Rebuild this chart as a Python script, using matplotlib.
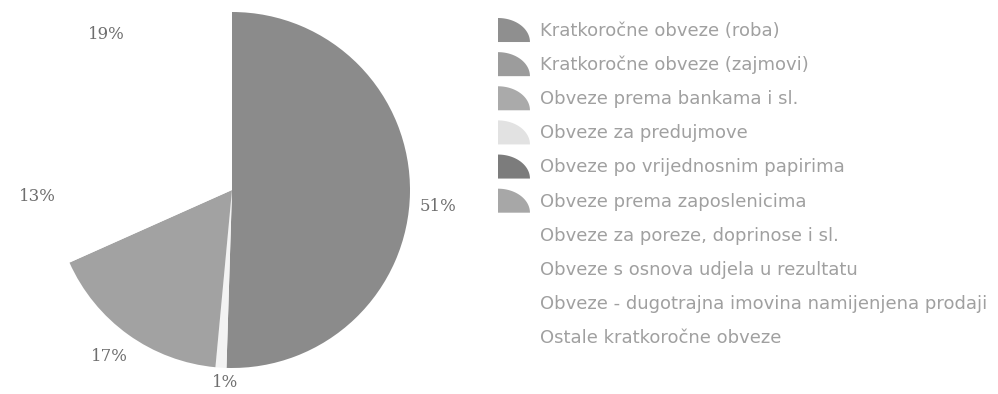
import matplotlib
matplotlib.use("Agg")
import matplotlib.pyplot as plt
from matplotlib.patches import Polygon, Patch
from matplotlib.legend_handler import HandlerPatch
import numpy as np

# udjeli u kratkoročnim obvezama (%)
shares = [51, 1, 17, 13, 19]
slice_colors = ["#8b8b8b", "#f3f3f3", "#a2a2a2", "#ffffff", "#ffffff"]

categories = [
    "Kratkoročne obveze (roba)",
    "Kratkoročne obveze (zajmovi)",
    "Obveze prema bankama i sl.",
    "Obveze za predujmove",
    "Obveze po vrijednosnim papirima",
    "Obveze prema zaposlenicima",
    "Obveze za poreze, doprinose i sl.",
    "Obveze s osnova udjela u rezultatu",
    "Obveze - dugotrajna imovina namijenjena prodaji",
    "Ostale kratkoročne obveze",
]
legend_colors = ["#8f8f8f", "#9c9c9c", "#aaaaaa", "#e2e2e2", "#7c7c7c", "#a7a7a7",
                 "none", "none", "none", "none"]

# sitni pomaci oznaka postotaka (u jedinicama polumjera)
label_nudge = [(0.028, -0.073), (0.034, 0.045), (-0.028, -0.017), (0.034, -0.017), (-0.079, -0.062)]

fig = plt.figure(figsize=(9.98, 3.94), dpi=100)

# krug: središte (232, 190) px, polumjer 178 px
ax = fig.add_axes([54 / 998, 26 / 394, 356 / 998, 356 / 394])
wedges, texts = ax.pie(
    shares,
    colors=slice_colors,
    labels=[f"{v}%" for v in shares],
    labeldistance=1.13,
    startangle=90,
    counterclock=False,
    wedgeprops=dict(linewidth=0),
    textprops=dict(family="DejaVu Serif", fontsize=12, color="#6e6e6e"),
)
ax.set_xlim(-1, 1)
ax.set_ylim(-1, 1)
for t, (dx, dy) in zip(texts, label_nudge):
    x, y = t.get_position()
    t.set_position((x + dx, y + dy))
    t.set_ha("center")
    t.set_va("center")


def quarter_swatch(legend, orig_handle, xdescent, ydescent, width, height, fontsize):
    # četvrtina elipse, kut dolje lijevo
    a = np.linspace(0, np.pi / 2, 30)
    pts = np.column_stack([-xdescent + width * np.cos(a), -ydescent + height * np.sin(a)])
    pts = np.vstack([[-xdescent, -ydescent], pts])
    return Polygon(pts, closed=True)


handles = [Patch(facecolor=c, edgecolor="none") for c in legend_colors]
leg = fig.legend(
    handles, categories,
    loc="upper left",
    bbox_to_anchor=(498 / 998, 1 - 18 / 394),
    frameon=False,
    fontsize=13,
    borderpad=0,
    borderaxespad=0,
    handlelength=1.77,
    handleheight=1.67,
    handletextpad=0.55,
    labelspacing=0.56,
    handler_map={Patch: HandlerPatch(patch_func=quarter_swatch)},
)
for t in leg.get_texts():
    t.set_color("#a0a0a0")

fig.savefig("out.png", dpi=100)
